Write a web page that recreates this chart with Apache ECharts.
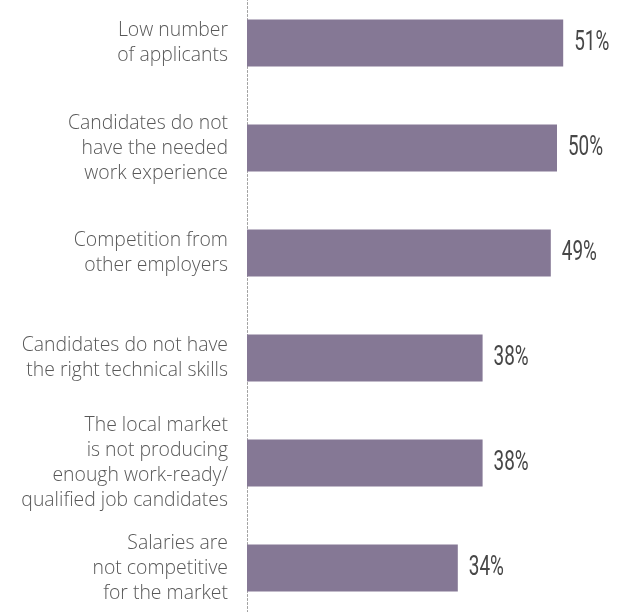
<!DOCTYPE html>
<html>
<head>
<meta charset="utf-8">
<script src="https://cdn.jsdelivr.net/npm/echarts@6/dist/echarts.min.js"></script>
<style>
  html, body { margin: 0; padding: 0; background: #ffffff; }
  #chart { width: 623px; height: 612px; }
</style>
</head>
<body>
<div id="chart"></div>
<script>
// Reasons given for difficulty filling positions (share of respondents, %)
const categories = [
  'Low number\nof applicants',
  'Candidates do not\nhave the needed\nwork experience',
  'Competition from\nother employers',
  'Candidates do not have\nthe right technical skills',
  'The local market\nis not producing\nenough work-ready/\nqualified job candidates',
  'Salaries are\nnot competitive\nfor the market'
];
const shares = [51, 50, 49, 38, 38, 34];

const chart = echarts.init(document.getElementById('chart'), null, { renderer: 'canvas' });

chart.setOption({
  animation: false,
  backgroundColor: '#ffffff',
  grid: { left: 247, width: 372, top: -9.5, height: 630, outerBoundsMode: 'none', containLabel: false },
  xAxis: {
    type: 'value',
    min: 0,
    max: 60,
    show: false
  },
  yAxis: {
    type: 'category',
    data: categories,
    inverse: true,
    axisTick: { show: false },
    axisLine: {
      show: true,
      lineStyle: { color: '#a0a0a0', width: 1, type: [2, 2] }
    },
    axisLabel: {
      margin: 19,
      color: '#585858',
      fontFamily: '"Open Sans", Lato, sans-serif',
      fontWeight: 300,
      fontSize: 19.4,
      lineHeight: 25,
      align: 'right'
    },
    splitLine: { show: false }
  },
  series: [
    {
      type: 'bar',
      data: shares,
      barWidth: 47,
      itemStyle: { color: '#857895' },
      z: 2
    },
    {
      // percentage labels in a condensed style, placed at each bar's end
      type: 'custom',
      data: shares.map((v, i) => [v, i]),
      encode: { x: 0, y: 1 },
      z: 3,
      renderItem: function (params, api) {
        const v = api.value(0);
        const p = api.coord([v, api.value(1)]);
        return {
          type: 'text',
          x: p[0] + 11,
          y: p[1],
          scaleX: 0.7,
          style: {
            text: v + '%',
            fill: '#474747',
            font: '400 27px Roboto, sans-serif',
            align: 'left',
            verticalAlign: 'middle'
          }
        };
      }
    }
  ]
});
</script>
</body>
</html>
